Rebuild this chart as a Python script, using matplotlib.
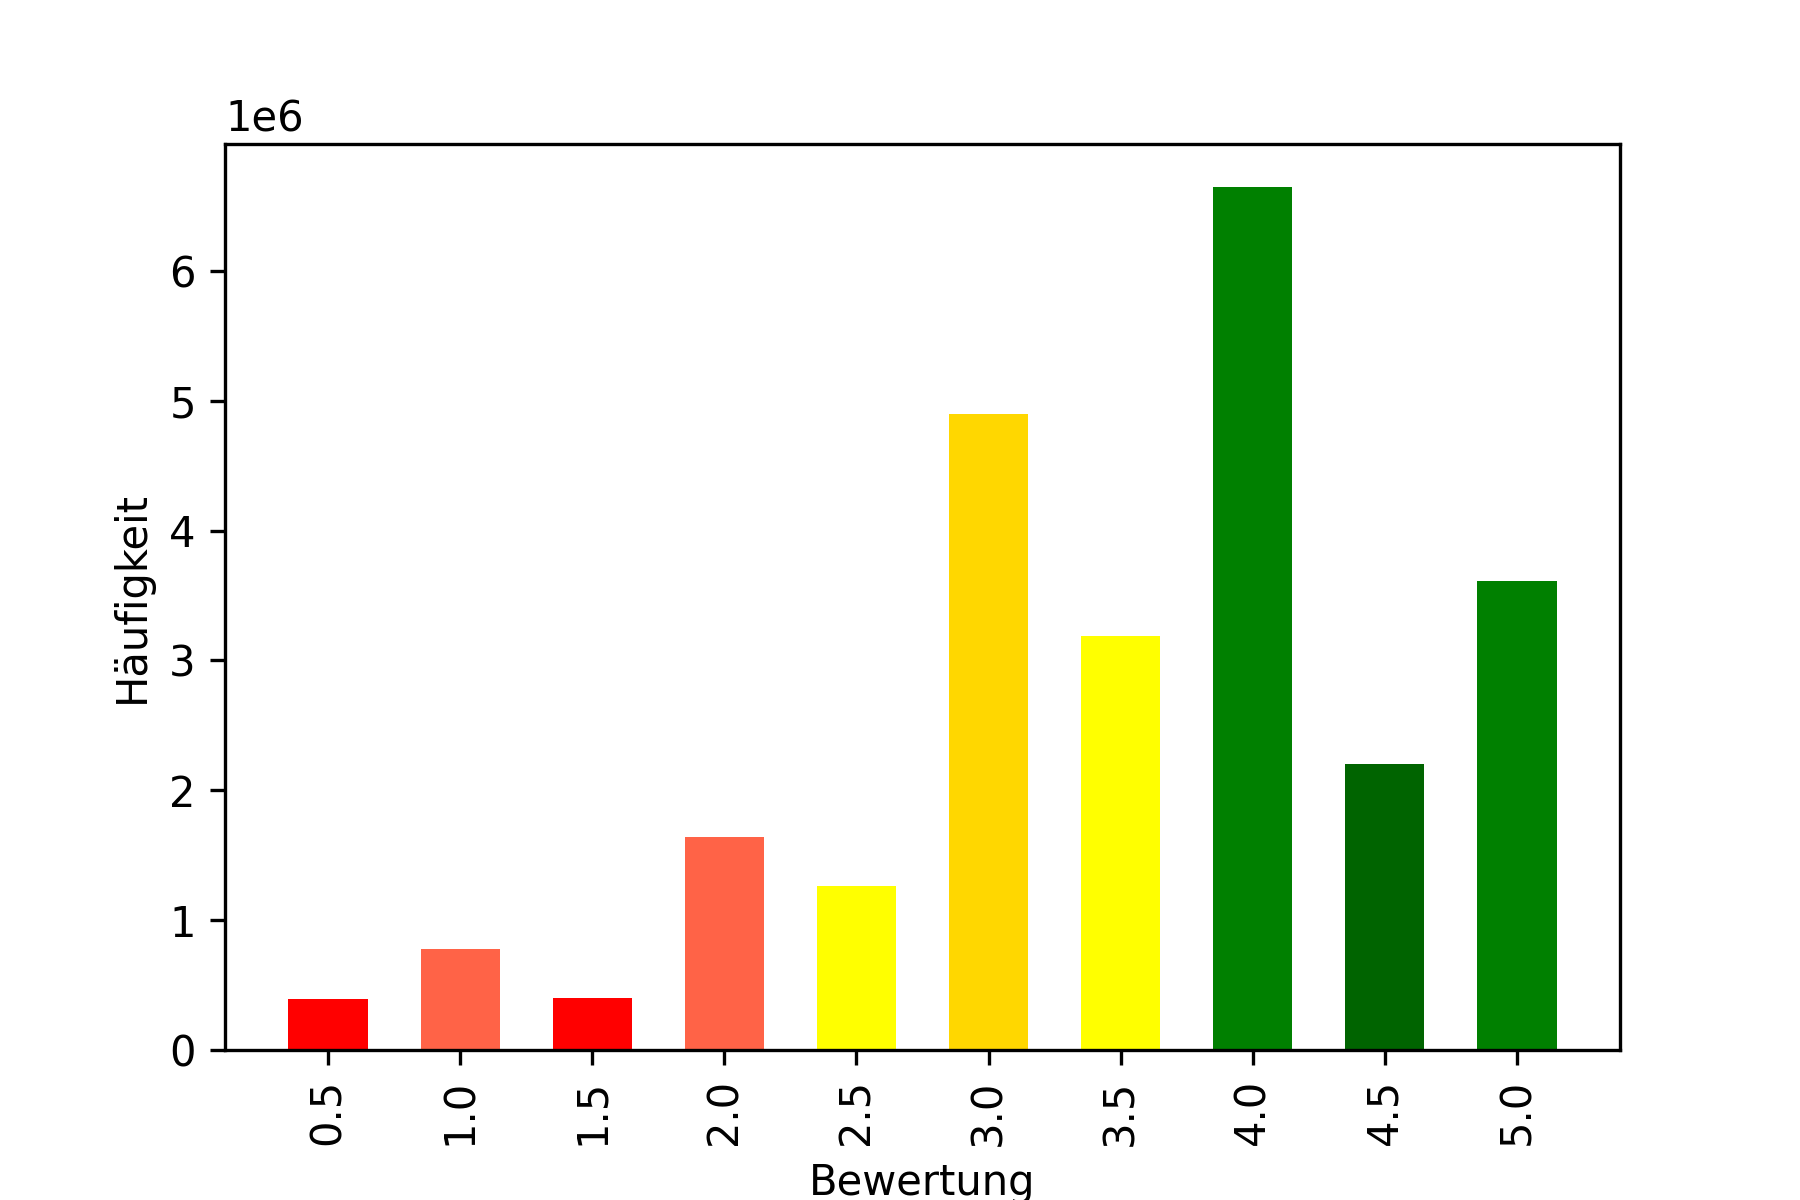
import matplotlib
matplotlib.use("Agg")
import matplotlib.pyplot as plt

bewertung = ["0.5", "1.0", "1.5", "2.0", "2.5", "3.0", "3.5", "4.0", "4.5", "5.0"]
haeufigkeit = [0.39e6, 0.78e6, 0.40e6, 1.64e6, 1.265e6, 4.895e6, 3.185e6, 6.645e6, 2.20e6, 3.61e6]
farben = ["red", "tomato", "red", "tomato", "yellow", "gold", "yellow",
          "green", "darkgreen", "green"]

fig = plt.figure(figsize=(6, 4), dpi=300)
fig.subplots_adjust(bottom=0.125)
plt.bar(bewertung, haeufigkeit, width=0.6, color=farben)
plt.xticks(rotation=90)
plt.xlabel("Bewertung")
plt.ylabel("Häufigkeit")
fig.savefig("out.png")
